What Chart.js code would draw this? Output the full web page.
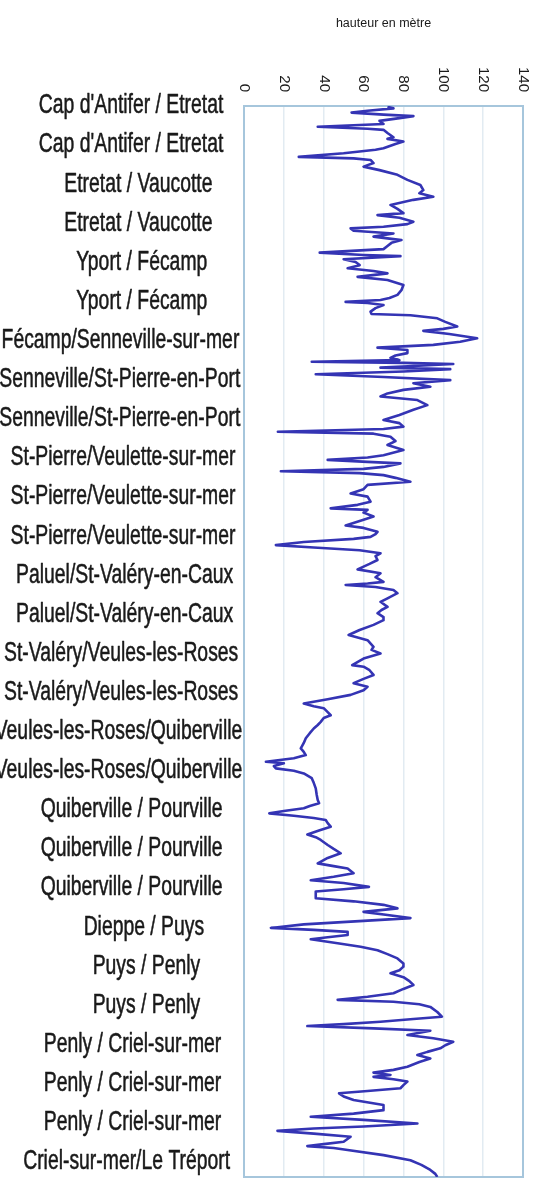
<!DOCTYPE html>
<html lang="fr">
<head>
<meta charset="utf-8">
<title>Hauteur des falaises du Cap d'Antifer au Tréport</title>
<script src="https://cdn.jsdelivr.net/npm/chart.js@4.4.1/dist/chart.umd.min.js"></script>
<style>
  html, body { margin: 0; padding: 0; background: #ffffff; }
  #wrap { width: 547px; height: 1179px; position: relative; }
  canvas { display: block; }
</style>
</head>
<body>
<div id="wrap"><canvas id="profil" width="547" height="1179"></canvas></div>
<script>
// Tronçons de côte, un libellé par graduation (du nord-ouest au nord-est)
const segments = [
  "Cap d'Antifer / Etretat", "Cap d'Antifer / Etretat",
  "Etretat / Vaucotte", "Etretat / Vaucotte",
  "Yport / Fécamp", "Yport / Fécamp",
  "Fécamp/Senneville-sur-mer",
  "Senneville/St-Pierre-en-Port", "Senneville/St-Pierre-en-Port",
  "St-Pierre/Veulette-sur-mer", "St-Pierre/Veulette-sur-mer", "St-Pierre/Veulette-sur-mer",
  "Paluel/St-Valéry-en-Caux", "Paluel/St-Valéry-en-Caux",
  "St-Valéry/Veules-les-Roses", "St-Valéry/Veules-les-Roses",
  "Veules-les-Roses/Quiberville", "Veules-les-Roses/Quiberville",
  "Quiberville / Pourville", "Quiberville / Pourville", "Quiberville / Pourville",
  "Dieppe / Puys",
  "Puys / Penly", "Puys / Penly",
  "Penly / Criel-sur-mer", "Penly / Criel-sur-mer", "Penly / Criel-sur-mer",
  "Criel-sur-mer/Le Tréport"
];

// Graduations de l'axe des hauteurs (m)
const heightTicks = [0, 20, 40, 60, 80, 100, 120, 140];

// Position le long du littoral, exprimée en graduations de tronçon
const positions = [
  0.02, 0.06, 0.12, 0.17, 0.22, 0.26, 0.31, 0.38, 0.46, 0.53,
  0.58, 0.61, 0.69, 0.80, 0.84, 0.91, 0.97, 1.08, 1.12, 1.21,
  1.30, 1.34, 1.38, 1.46, 1.55, 1.64, 1.76, 1.89, 2.02, 2.15,
  2.23, 2.32, 2.40, 2.53, 2.63, 2.74, 2.79, 2.86, 2.96, 3.02,
  3.09, 3.13, 3.19, 3.26, 3.34, 3.43, 3.50, 3.58, 3.66, 3.75,
  3.81, 3.84, 3.92, 3.99, 4.07, 4.15, 4.22, 4.28, 4.37, 4.45,
  4.58, 4.71, 4.83, 4.91, 4.96, 5.01, 5.04, 5.09, 5.17, 5.26,
  5.32, 5.35, 5.43, 5.52, 5.64, 5.70, 5.75, 5.83, 5.94, 6.03,
  6.11, 6.18, 6.24, 6.32, 6.38, 6.44, 6.50, 6.54, 6.57, 6.60,
  6.65, 6.69, 6.73, 6.79, 6.86, 6.93, 7.01, 7.09, 7.18, 7.26,
  7.35, 7.43, 7.52, 7.65, 7.77, 7.90, 8.03, 8.11, 8.20, 8.26,
  8.33, 8.38, 8.46, 8.57, 8.67, 8.80, 8.93, 8.99, 9.05, 9.10,
  9.14, 9.23, 9.28, 9.34, 9.39, 9.44, 9.51, 9.61, 9.69, 9.80,
  9.91, 9.99, 10.12, 10.20, 10.29, 10.33, 10.40, 10.50, 10.58, 10.73,
  10.79, 10.89, 10.95, 11.02, 11.07, 11.15, 11.23, 11.29, 11.36, 11.44,
  11.51, 11.61, 11.71, 11.85, 11.95, 12.05, 12.17, 12.21, 12.25, 12.30,
  12.38, 12.46, 12.59, 12.68, 12.81, 12.89, 12.97, 13.07, 13.15, 13.27,
  13.40, 13.53, 13.66, 13.83, 13.91, 14.00, 14.13, 14.19, 14.30, 14.34,
  14.43, 14.55, 14.65, 14.76, 14.85, 14.94, 15.06, 15.17, 15.28, 15.35,
  15.40, 15.50, 15.58, 15.65, 15.75, 15.83, 15.92, 16.04, 16.17, 16.29,
  16.43, 16.52, 16.60, 16.68, 16.77, 16.81, 16.88, 16.94, 17.00, 17.07,
  17.19, 17.31, 17.45, 17.62, 17.75, 17.83, 17.90, 17.96, 18.03, 18.09,
  18.15, 18.21, 18.26, 18.34, 18.43, 18.52, 18.63, 18.70, 18.77, 18.90,
  19.00, 19.11, 19.23, 19.37, 19.44, 19.50, 19.62, 19.71, 19.80, 19.87,
  19.97, 20.03, 20.09, 20.18, 20.26, 20.34, 20.43, 20.52, 20.61, 20.69,
  20.77, 20.84, 20.93, 21.02, 21.07, 21.12, 21.20, 21.26, 21.31, 21.41,
  21.50, 21.59, 21.69, 21.80, 21.93, 22.01, 22.10, 22.18, 22.28, 22.38,
  22.48, 22.58, 22.69, 22.78, 22.86, 22.91, 22.97, 23.04, 23.17, 23.29,
  23.35, 23.42, 23.48, 23.53, 23.59, 23.65, 23.76, 23.84, 23.93, 24.02,
  24.10, 24.19, 24.27, 24.36, 24.45, 24.57, 24.65, 24.72, 24.78, 24.83,
  24.89, 24.95, 25.04, 25.12, 25.19, 25.25, 25.33, 25.42, 25.55, 25.68,
  25.77, 25.85, 25.93, 26.02, 26.10, 26.15, 26.21, 26.28, 26.36, 26.49,
  26.55, 26.60, 26.65, 26.70, 26.83, 26.96, 27.08, 27.21, 27.31, 27.39
];

// Hauteur de la falaise (m) à chaque position
const heights = [
  72, 75, 62, 54, 70, 85, 78, 68, 70, 37,
  62, 70, 72, 75, 72, 80, 76, 70, 66, 50,
  27.5, 55, 63.5, 65, 60, 68, 77, 82, 88.5, 90,
  88, 95, 85, 73.5, 77, 80, 67, 78, 85, 82,
  70, 53.5, 55, 75, 65, 79, 74, 72, 70, 38,
  60, 78.5, 50, 56, 58, 52, 65, 72, 57, 72,
  80, 79, 77, 73, 68.5, 51, 62, 70, 66, 63.5,
  64, 83.5, 97, 101, 107, 100, 90, 103, 117, 108.5,
  95, 67, 82, 82, 76, 73.5, 78, 34, 80, 105,
  85, 68.5, 103.5, 80, 36, 70, 103.5, 85, 93.5, 80,
  72, 68.5, 87, 92, 85, 78, 70, 78, 80, 70,
  17, 65, 73.5, 76, 72, 80, 70, 62, 42, 62,
  78.5, 70, 60, 18.5, 58, 70, 76, 83.5, 62, 60,
  53.5, 62, 63.5, 57, 43.5, 62, 60, 65, 60, 51,
  60, 67, 66, 63.5, 55, 30, 16, 35, 58, 68.5,
  66, 67, 63, 57, 68.5, 66, 70, 62, 51, 66,
  75, 77, 72, 68.5, 72, 69, 67, 70, 70, 65,
  58, 52.5, 62, 65, 64, 68.5, 60, 58, 54.3, 60,
  63, 65, 60, 55, 62, 60, 53.5, 42, 30, 35,
  40, 42, 43.5, 40, 38.5, 37, 35, 33, 31, 30,
  28.5, 30, 31, 25, 11, 20, 15, 16, 25, 30,
  34, 35, 36, 36.5, 37, 37.7, 33, 30, 20, 12.7,
  25, 35, 41, 42, 43.5, 38, 31.8, 36, 38.5, 42,
  45, 48.5, 42, 37, 45, 52, 55, 45, 33.5, 50,
  62.7, 50, 36, 36, 36, 55, 70, 77, 60, 72,
  83.5, 60, 30, 13.5, 35, 52, 52, 42, 33.5, 47,
  58.5, 67, 72, 77, 80, 80, 78, 73.5, 80, 83,
  85, 80, 75, 62, 47, 75, 88, 93.5, 97, 99.3,
  85, 68.5, 50, 31.8, 65, 93.5, 82, 95, 105, 101,
  98.5, 92, 87, 93.5, 88, 82, 75, 65, 73.5, 65,
  75, 82, 80, 78.5, 62, 47.7, 50, 55, 70, 70,
  55, 33.5, 60, 87, 60, 35, 16.8, 35, 53.5, 50,
  40, 31.8, 45, 52, 70, 83.5, 89, 93.5, 96, 97
];

// --- Polices -------------------------------------------------------------
const SANS = '"Liberation Sans", Arial, sans-serif';
const LABEL_FONT = { family: SANS, size: 22, lineHeight: 1.2 };
// Libellés de tronçon en caractères étroits et hauts
const LABEL_STRETCH = { x: 0.88, y: 1.22 };
// Chaque libellé est calé sur un point situé à 70 % de sa longueur
const LABEL_ANCHOR = { fromAxis: 76, fraction: 0.7 };
const TITLE_FONT = { family: SANS, size: 12.5, lineHeight: 1.2 };
const TICK_FONT = '15px ' + SANS;
const TEXT_COLOR = '#1a1a1a';

// --- Géométrie des axes ---------------------------------------------------
const Y_AXIS_WIDTH = 244;
const X_AXIS_HEIGHT = 106;

// Axe linéaire dont les libellés sont dessinés resserrés et étirés en hauteur
class NarrowLabelScale extends Chart.LinearScale {
  drawLabels(chartArea) {
    const ctx = this.ctx;
    const items = this.getLabelItems(chartArea);
    const anchorX = this.right - LABEL_ANCHOR.fromAxis;
    for (const item of items) {
      const ty = item.options.translation[1];
      ctx.save();
      ctx.translate(anchorX, ty);
      ctx.scale(LABEL_STRETCH.x, LABEL_STRETCH.y);
      ctx.font = item.font.string;
      ctx.fillStyle = item.options.color;
      ctx.strokeStyle = item.options.color;
      ctx.lineWidth = 0.45;
      ctx.lineJoin = 'round';
      ctx.textAlign = 'left';
      ctx.textBaseline = 'middle';
      const w = ctx.measureText(item.label).width;
      const lx = -LABEL_ANCHOR.fraction * w;
      ctx.fillText(item.label, lx, item.textOffset);
      ctx.strokeText(item.label, lx, item.textOffset);
      ctx.restore();
    }
  }
}
NarrowLabelScale.id = 'narrowLabels';
NarrowLabelScale.defaults = Chart.LinearScale.defaults;
Chart.register(NarrowLabelScale);

// Cadre de la zone de tracé
const plotFrame = {
  id: 'plotFrame',
  beforeDatasetsDraw(chart) {
    const { ctx, chartArea: a } = chart;
    ctx.save();
    ctx.strokeStyle = '#a6c6dc';
    ctx.lineWidth = 2;
    ctx.strokeRect(a.left, a.top, a.right - a.left, a.bottom - a.top);
    ctx.restore();
  }
};

// Graduations de hauteur écrites verticalement, lues de haut en bas
const heightTickLabels = {
  id: 'heightTickLabels',
  afterDraw(chart) {
    const { ctx, chartArea, scales: { x } } = chart;
    ctx.save();
    ctx.font = TICK_FONT;
    ctx.fillStyle = TEXT_COLOR;
    ctx.textAlign = 'right';
    ctx.textBaseline = 'middle';
    heightTicks.forEach(v => {
      ctx.save();
      ctx.translate(x.getPixelForValue(v), chartArea.top - 14);
      ctx.rotate(Math.PI / 2);
      ctx.fillText(String(v), 0, 0);
      ctx.restore();
    });
    ctx.restore();
  }
};

const profile = positions.map((p, i) => ({ x: heights[i], y: p }));

new Chart(document.getElementById('profil'), {
  type: 'scatter',
  data: {
    datasets: [{
      label: 'hauteur en mètre',
      data: profile,
      showLine: true,
      borderColor: '#3434b4',
      borderWidth: 2.6,
      borderJoinStyle: 'round',
      pointRadius: 0,
      pointHoverRadius: 0,
      tension: 0
    }]
  },
  options: {
    responsive: false,
    animation: false,
    devicePixelRatio: 1,
    layout: { padding: { left: 0, top: 0, right: 24, bottom: 2 } },
    plugins: {
      legend: { display: false },
      tooltip: { enabled: false }
    },
    scales: {
      x: {
        type: 'linear',
        position: 'top',
        min: 0,
        max: 140,
        afterBuildTicks: s => { s.ticks = heightTicks.map(v => ({ value: v })); },
        afterFit: s => { s.height = X_AXIS_HEIGHT; },
        ticks: { display: false },
        grid: { color: '#e2ebf2', lineWidth: 1.5, drawTicks: false },
        border: { display: false },
        title: {
          display: true,
          text: 'hauteur en mètre',
          color: TEXT_COLOR,
          font: TITLE_FONT,
          padding: { top: 16, bottom: 0 }
        }
      },
      y: {
        type: 'narrowLabels',
        reverse: true,
        min: 0,
        max: 27.39,
        afterBuildTicks: s => { s.ticks = segments.map((_, i) => ({ value: i })); },
        afterFit: s => {
          s.width = Y_AXIS_WIDTH;
          s.paddingTop = 0;
          s.paddingBottom = 0;
        },
        ticks: {
          autoSkip: false,
          color: TEXT_COLOR,
          font: LABEL_FONT,
          callback: v => segments[v]
        },
        grid: { display: false, drawTicks: false },
        border: { display: false }
      }
    }
  },
  plugins: [plotFrame, heightTickLabels]
});
</script>
</body>
</html>
